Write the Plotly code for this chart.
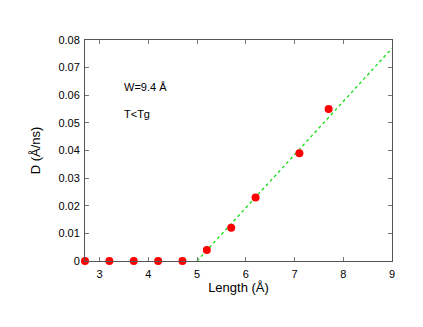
import plotly.graph_objects as go

# Data
length = [2.7, 3.2, 3.7, 4.2, 4.7, 5.2, 5.7, 6.2, 7.1, 7.7]
diff = [0.0, 0.0, 0.0, 0.0, 0.0, 0.004, 0.012, 0.023, 0.039, 0.055]
fit_x = [5.0, 9.0]
fit_y = [0.0, 0.077]
x_ticks = [3, 4, 5, 6, 7, 8, 9]
y_ticks = [0, 0.01, 0.02, 0.03, 0.04, 0.05, 0.06, 0.07, 0.08]
y_tick_labels = ["0", "0.01", "0.02", "0.03", "0.04", "0.05", "0.06", "0.07", "0.08"]

font = "Liberation Sans, Arial, Helvetica, sans-serif"

fig = go.Figure()
fig.add_trace(go.Scatter(
    x=fit_x, y=fit_y, mode="lines",
    line=dict(color="#11dd11", width=1.3, dash="dot"),
    showlegend=False, hoverinfo="skip",
))
fig.add_trace(go.Scatter(
    x=length, y=diff, mode="markers",
    marker=dict(color="#ff0000", size=8, line=dict(width=0)),
    cliponaxis=False, showlegend=False,
))

fig.add_annotation(x=3.45, y=0.063, text="W=9.4 Å", showarrow=False,
                   xanchor="left", yanchor="middle",
                   font=dict(family=font, size=11, color="black"))
fig.add_annotation(x=3.45, y=0.0532, text="T&lt;Tg", showarrow=False,
                   xanchor="left", yanchor="middle",
                   font=dict(family=font, size=11, color="black"))

axis_common = dict(
    showline=True, linecolor="#555555", linewidth=1, mirror="ticks",
    ticks="inside", ticklen=4, tickcolor="#777777",
    showgrid=False, zeroline=False,
    tickfont=dict(family=font, size=11, color="black"),
)

fig.update_xaxes(range=[2.7, 9], tickvals=x_ticks, ticklabelstandoff=3,
                 title=dict(text="Length (Å)", font=dict(family=font, size=13, color="black"), standoff=3),
                 **axis_common)
fig.update_yaxes(range=[0, 0.08], tickvals=y_ticks, ticktext=y_tick_labels,
                 ticklabelstandoff=2,
                 title=dict(text="D (Å/ns)", font=dict(family=font, size=13, color="black"), standoff=14),
                 **axis_common)

fig.update_layout(
    width=415, height=319,
    margin=dict(l=77, r=31, t=32, b=66),
    paper_bgcolor="white", plot_bgcolor="white",
    font=dict(family=font),
)

fig.write_html("out.html")
